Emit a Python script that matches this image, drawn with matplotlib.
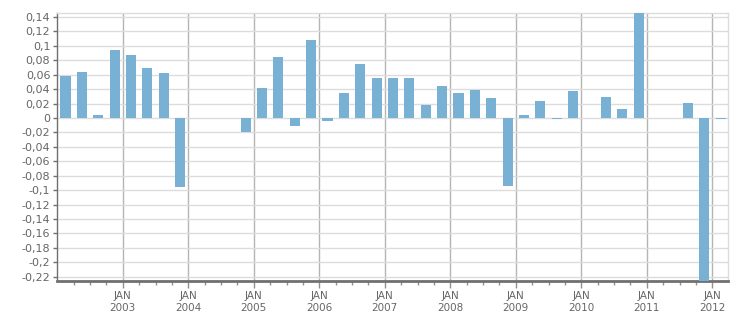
import matplotlib
matplotlib.use("Agg")
import matplotlib.pyplot as plt
from matplotlib.ticker import FixedLocator, FuncFormatter

# Quarterly values, 2002Q1 .. 2012Q1 (0 = no bar)
quarters = [f"{y}Q{q}" for y in range(2002, 2013) for q in range(1, 5)][:41]
values = [
    0.0582, 0.0637, 0.0042, 0.0942,   # 2002
    0.0873, 0.0693, 0.0624, -0.0952,  # 2003
    0.0, 0.0, 0.0, -0.0194,           # 2004
    0.0416, 0.0845, -0.0111, 0.1081,  # 2005
    -0.0042, 0.0346, 0.0748, 0.0554,  # 2006
    0.0554, 0.0554, 0.0180, 0.0443,   # 2007
    0.0346, 0.0388, 0.0277, -0.0938,  # 2008
    0.0042, 0.0236, -0.0012, 0.0374,  # 2009
    0.0, 0.0291, 0.0125, 0.1500,      # 2010
    0.0, 0.0, 0.0208, -0.2500,        # 2011
    -0.0012,                          # 2012
]
year_ticks = list(range(2003, 2013))

def qpos(label):
    y, q = label.split("Q")
    return int(y) + (int(q) - 0.5) / 4.0

xs = [qpos(q) for q in quarters]

fig = plt.figure(figsize=(7.51, 3.13), dpi=100)
ax = fig.add_axes([0.0763, 0.1022, 0.8935, 0.8553])

ax.bar(xs, values, width=0.153, color="#78b1d3", zorder=3)

ax.set_xlim(2002.0, 2012.244)
ax.set_ylim(-0.2259, 0.1451)

yt = [round(-0.22 + 0.02 * i, 2) for i in range(19)]
ax.yaxis.set_major_locator(FixedLocator(yt))
def yfmt(v, pos):
    s = f"{v:.2f}".rstrip("0").rstrip(".")
    if s in ("-0", "0.", ""):
        s = "0"
    return s.replace(".", ",")
ax.yaxis.set_major_formatter(FuncFormatter(yfmt))

ax.xaxis.set_major_locator(FixedLocator(year_ticks))
ax.xaxis.set_major_formatter(FuncFormatter(lambda v, p: f"JAN\n{int(round(v))}"))
minor = [2002 + i / 4 for i in range(1, 41) if i % 4 != 0]
ax.xaxis.set_minor_locator(FixedLocator(minor))

ax.grid(axis="y", color="#dcdcdc", linewidth=1, zorder=0)
ax.grid(axis="x", which="major", color="#b4b4b4", linewidth=1, zorder=1)
ax.set_axisbelow(True)

for side in ("top", "right"):
    ax.spines[side].set_color("#dcdcdc")
    ax.spines[side].set_linewidth(1)
ax.spines["left"].set_color("#707070")
ax.spines["left"].set_linewidth(1)
ax.spines["bottom"].set_color("#707070")
ax.spines["bottom"].set_linewidth(2)

ax.tick_params(axis="y", direction="out", length=3, width=1, color="#707070",
               labelsize=8, labelcolor="#666666", pad=2)
ax.tick_params(axis="x", which="major", direction="out", length=5, width=1,
               color="#909090", labelsize=7.5, labelcolor="#666666", pad=2)
ax.tick_params(axis="x", which="minor", direction="out", length=3, width=1,
               color="#909090")
for lbl in ax.get_xticklabels():
    lbl.set_linespacing(1.25)

fig.savefig("out.png", dpi=100)
